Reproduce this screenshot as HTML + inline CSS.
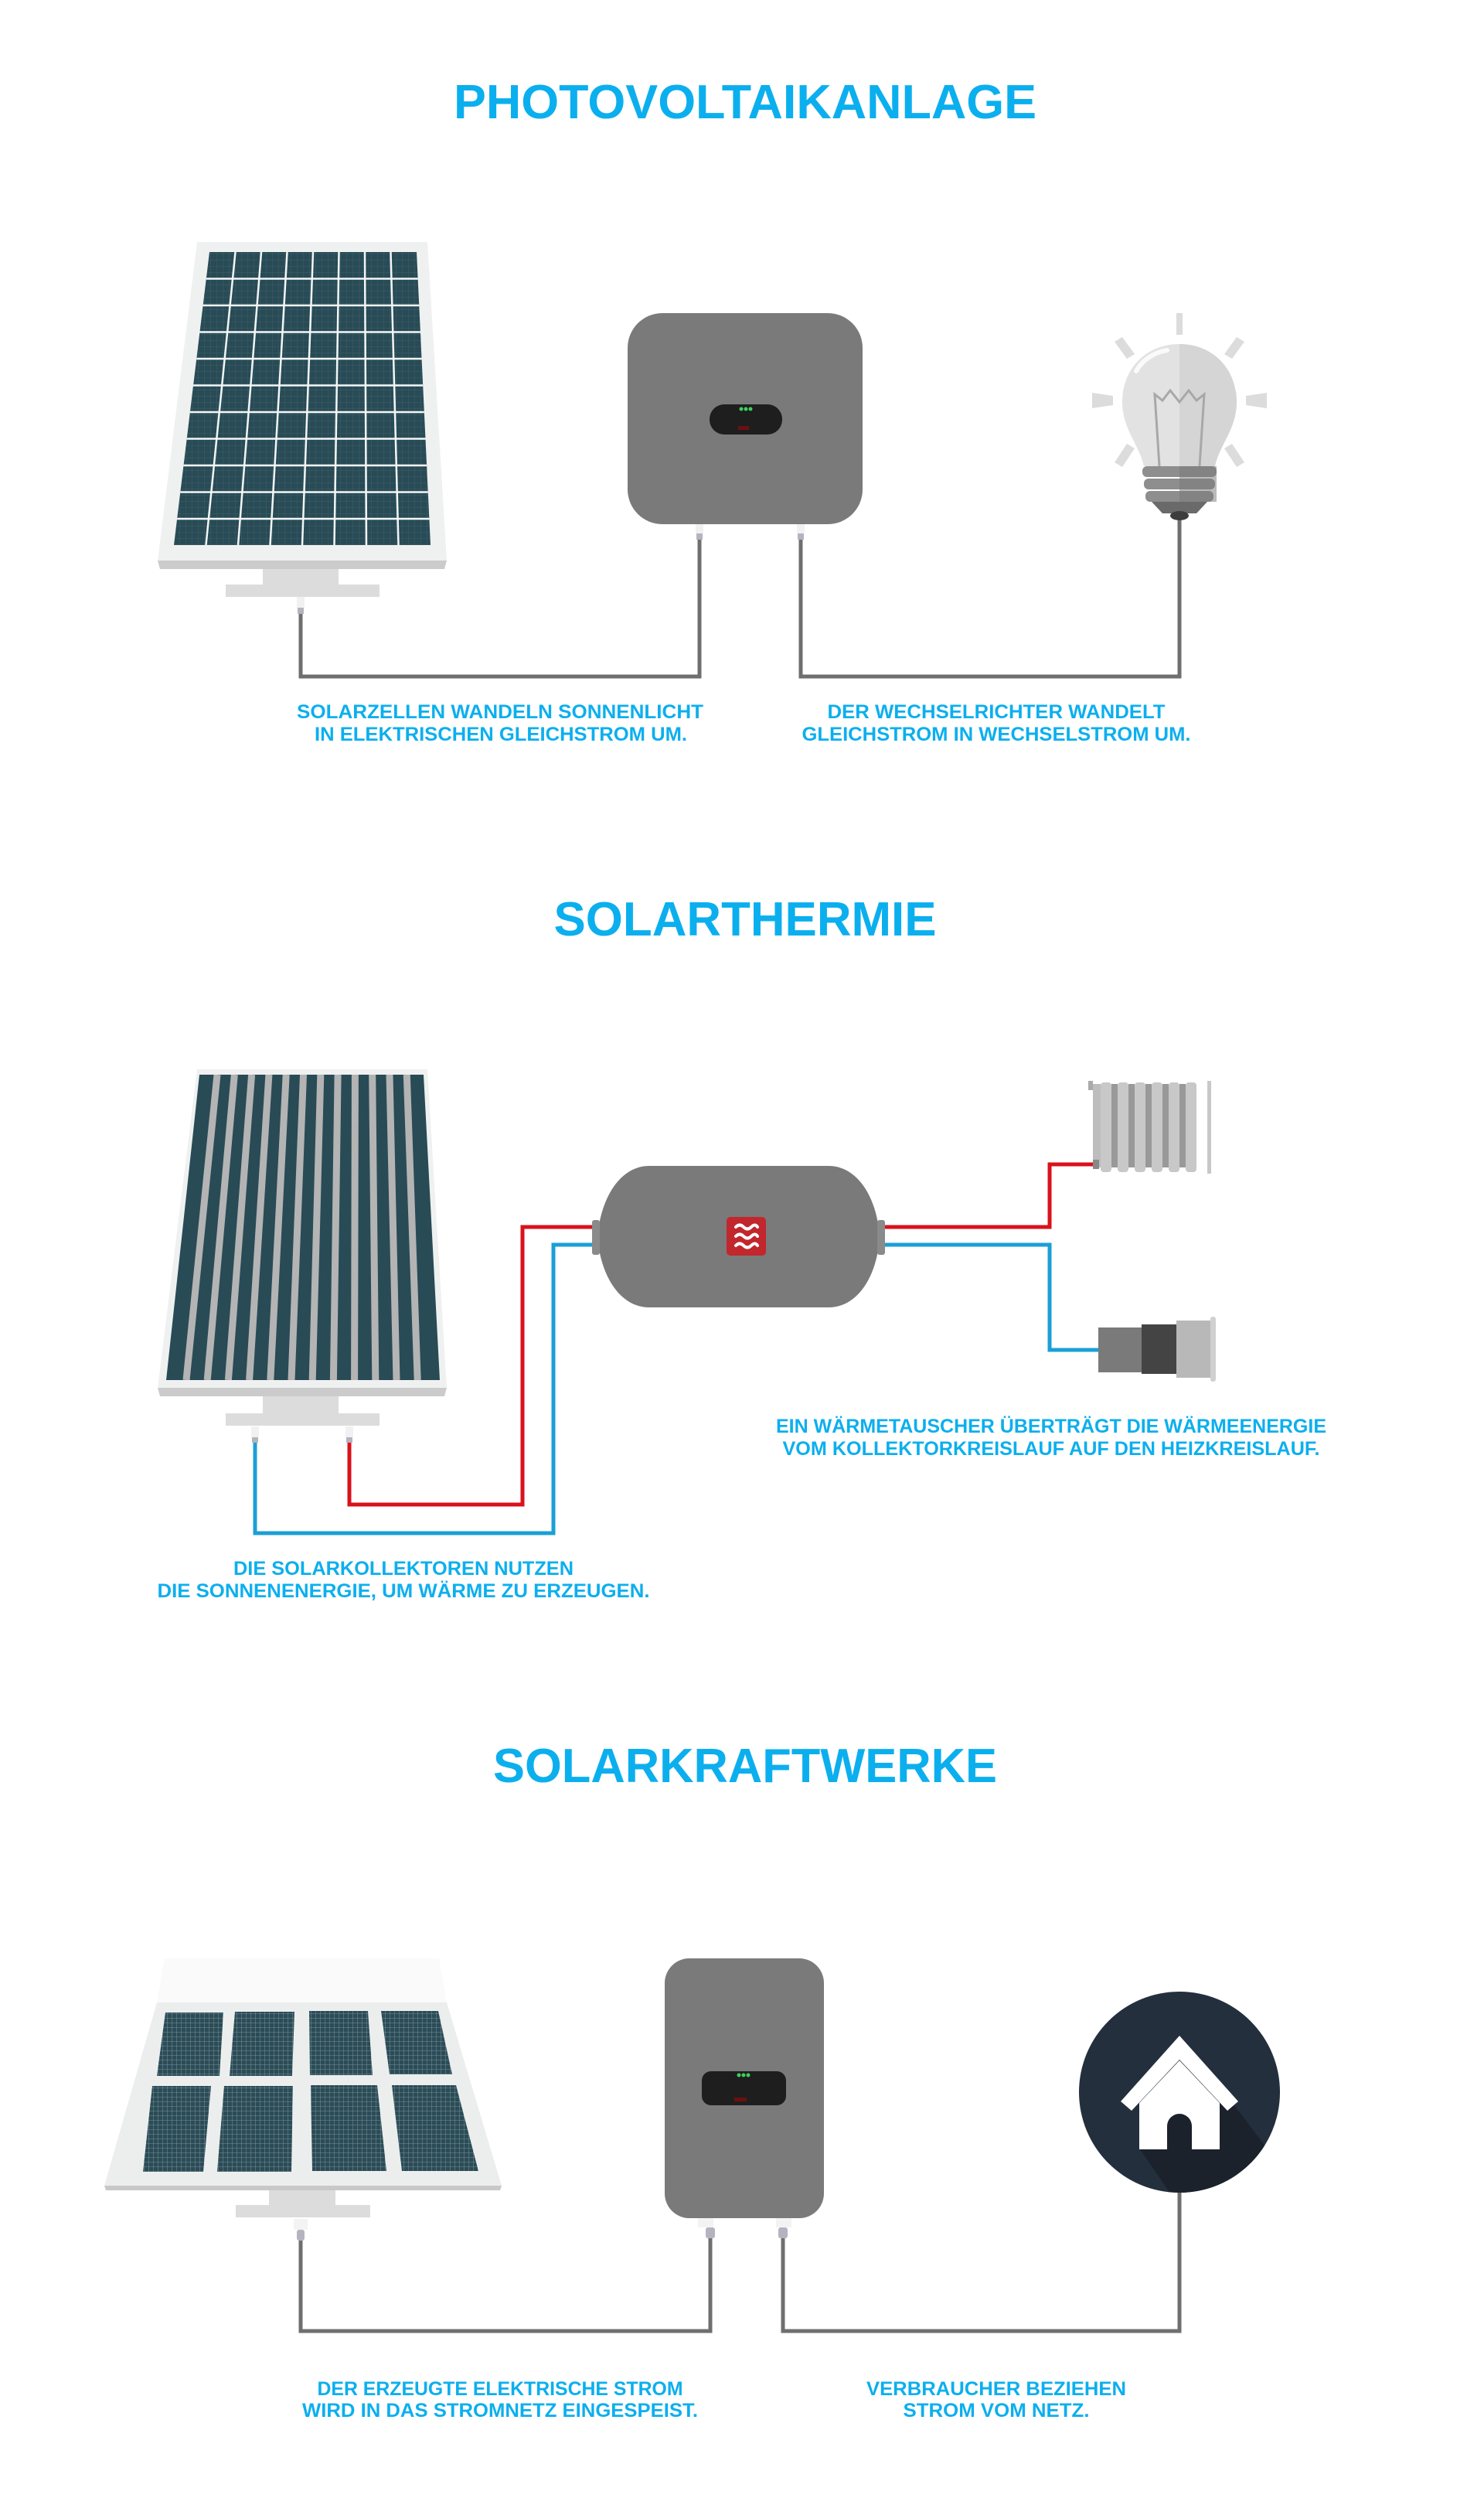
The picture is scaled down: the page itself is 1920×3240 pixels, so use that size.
<!DOCTYPE html>
<html><head><meta charset="utf-8"><style>
html,body{margin:0;padding:0;background:#fff;}
svg{display:block;}
text{font-family:"Liberation Sans",Arial,sans-serif;font-weight:bold;fill:#0cafee;}
</style></head><body>
<svg width="1920" height="3240" viewBox="0 0 1920 3240" xmlns="http://www.w3.org/2000/svg">
<defs>
<pattern id="fine" width="8" height="8" patternUnits="userSpaceOnUse"><path d="M0 0H8M0 0V8" stroke="#4f6d76" stroke-width="1" fill="none"/></pattern>
<pattern id="fine2" width="6" height="6" patternUnits="userSpaceOnUse"><rect width="6" height="6" fill="#2b4c57"/><path d="M0 0H6M0 0V6" stroke="#8aa0a6" stroke-width="0.8" fill="none"/></pattern>
<clipPath id="c1"><polygon points="271,326 539,326 557,705 225,705"/></clipPath>
<clipPath id="c2"><polygon points="258,1390 548,1390 569,1785 215,1785"/></clipPath>
</defs>

<!-- ===== SECTION 1 ===== -->
<text x="964" y="153" font-size="62" text-anchor="middle" textLength="754" lengthAdjust="spacingAndGlyphs">PHOTOVOLTAIKANLAGE</text>

<!-- panel 1 -->
<polygon points="255,313 553,313 578,725 204,725" fill="#eff1f1"/>
<polygon points="204,725 578,725 575,736 207,736" fill="#cbcbcb"/>
<g clip-path="url(#c1)">
<rect x="220" y="320" width="340" height="390" fill="#284b56"/>
<rect x="220" y="320" width="340" height="390" fill="url(#fine)" opacity="0.6"/>
<g stroke="#f4f6f6" stroke-width="2.5">
<line x1="304.5" y1="326" x2="266.5" y2="705"/><line x1="338" y1="326" x2="308" y2="705"/><line x1="371.5" y1="326" x2="349.5" y2="705"/><line x1="405" y1="326" x2="391" y2="705"/><line x1="438.5" y1="326" x2="432.5" y2="705"/><line x1="472" y1="326" x2="474" y2="705"/><line x1="505.5" y1="326" x2="515.5" y2="705"/>
<line x1="200" x2="580" y1="360.5" y2="360.5"/><line x1="200" x2="580" y1="395" y2="395"/><line x1="200" x2="580" y1="429.5" y2="429.5"/><line x1="200" x2="580" y1="464" y2="464"/><line x1="200" x2="580" y1="498.5" y2="498.5"/><line x1="200" x2="580" y1="533" y2="533"/><line x1="200" x2="580" y1="567.5" y2="567.5"/><line x1="200" x2="580" y1="602" y2="602"/><line x1="200" x2="580" y1="636.5" y2="636.5"/><line x1="200" x2="580" y1="671" y2="671"/>
</g></g>
<rect x="340" y="736" width="98" height="20" fill="#dcdcdc"/>
<rect x="292" y="756" width="199" height="16" fill="#dcdcdc"/>
<rect x="384" y="772" width="10" height="14" fill="#f1f1f1"/><rect x="385" y="786" width="8" height="8" fill="#b5b3c0"/>

<!-- wires 1 -->
<polyline points="389,794 389,875 905,875 905,698" fill="none" stroke="#6f6f6f" stroke-width="5"/>
<polyline points="1036,698 1036,875 1526,875 1526,670" fill="none" stroke="#6f6f6f" stroke-width="5"/>

<!-- inverter 1 -->
<rect x="812" y="405" width="304" height="273" rx="45" fill="#7a7a7a"/>
<rect x="900" y="678" width="10" height="12" fill="#f1f1f1"/><rect x="901" y="690" width="8" height="8" fill="#b5b3c0"/>
<rect x="1031" y="678" width="10" height="12" fill="#f1f1f1"/><rect x="1032" y="690" width="8" height="8" fill="#b5b3c0"/>
<rect x="918" y="523" width="94" height="39" rx="19" fill="#1e1e1e"/>
<circle cx="959" cy="529" r="2.5" fill="#3bd15a"/><circle cx="965" cy="529" r="2.5" fill="#3bd15a"/><circle cx="971" cy="529" r="2.5" fill="#3bd15a"/>
<rect x="955" y="551" width="14" height="5" fill="#6b1010"/>

<!-- bulb -->
<g fill="#dcdcdc">
<rect x="1522" y="405" width="8" height="28"/>
<polygon points="1442,442 1452,436 1468,458 1458,464"/>
<polygon points="1610,442 1600,436 1584,458 1594,464"/>
<polygon points="1413,508 1440,512 1440,524 1413,528"/>
<polygon points="1639,508 1612,512 1612,524 1639,528"/>
<polygon points="1442,598 1452,604 1468,580 1458,574"/>
<polygon points="1610,598 1600,604 1584,580 1594,574"/>
</g>
<path d="M1526,445 C1570,445 1600,478 1600,520 C1600,555 1578,575 1572,603 L1480,603 C1474,575 1452,555 1452,520 C1452,478 1482,445 1526,445 Z" fill="#e2e2e2"/>
<path d="M1526,445 C1570,445 1600,478 1600,520 C1600,555 1578,575 1572,603 L1526,603 Z" fill="#d5d5d5"/>
<path d="M1470,480 C1478,465 1495,455 1510,453" stroke="#fafafa" stroke-width="6" fill="none" stroke-linecap="round"/>
<path d="M1500,603 L1494,510 L1504,518 L1514,505 L1526,520 L1538,505 L1548,518 L1558,510 L1552,603" stroke="#a8a8a8" stroke-width="3" fill="none"/>
<rect x="1478" y="603" width="96" height="14" rx="6" fill="#8e8e8e"/>
<rect x="1480" y="619" width="92" height="14" rx="6" fill="#8e8e8e"/>
<rect x="1482" y="635" width="88" height="14" rx="6" fill="#8e8e8e"/>
<rect x="1526" y="603" width="48" height="46" fill="#777" opacity="0.5"/>
<path d="M1490,649 L1562,649 L1548,664 L1504,664 Z" fill="#6a6a6a"/>
<ellipse cx="1526" cy="667" rx="12" ry="6" fill="#3d3d3d"/>

<text x="647" y="929" font-size="25" text-anchor="middle" textLength="526" lengthAdjust="spacingAndGlyphs">SOLARZELLEN WANDELN SONNENLICHT</text>
<text x="648" y="958" font-size="25" text-anchor="middle" textLength="482" lengthAdjust="spacingAndGlyphs">IN ELEKTRISCHEN GLEICHSTROM UM.</text>
<text x="1289" y="929" font-size="25" text-anchor="middle" textLength="437" lengthAdjust="spacingAndGlyphs">DER WECHSELRICHTER WANDELT</text>
<text x="1289" y="958" font-size="25" text-anchor="middle" textLength="503" lengthAdjust="spacingAndGlyphs">GLEICHSTROM IN WECHSELSTROM UM.</text>

<!-- ===== SECTION 2 ===== -->
<text x="964" y="1210" font-size="62" text-anchor="middle" textLength="495" lengthAdjust="spacingAndGlyphs">SOLARTHERMIE</text>

<polygon points="255,1383 553,1383 578,1795 204,1795" fill="#eff1f1"/>
<polygon points="204,1795 578,1795 575,1806 207,1806" fill="#cbcbcb"/>
<g clip-path="url(#c2)">
<rect x="210" y="1385" width="365" height="405" fill="#284b56"/>
<g stroke="#b4b4b4" stroke-width="9">
<line x1="281" y1="1390" x2="241" y2="1785"/><line x1="303.3" y1="1390" x2="268.2" y2="1785"/><line x1="325.6" y1="1390" x2="295.4" y2="1785"/><line x1="347.9" y1="1390" x2="322.6" y2="1785"/><line x1="370.2" y1="1390" x2="349.8" y2="1785"/><line x1="392.5" y1="1390" x2="377" y2="1785"/><line x1="414.8" y1="1390" x2="404.2" y2="1785"/><line x1="437.1" y1="1390" x2="431.4" y2="1785"/><line x1="459.4" y1="1390" x2="458.6" y2="1785"/><line x1="481.7" y1="1390" x2="485.8" y2="1785"/><line x1="504" y1="1390" x2="513" y2="1785"/><line x1="526.3" y1="1390" x2="540.2" y2="1785"/>
</g></g>
<rect x="340" y="1806" width="98" height="22" fill="#dcdcdc"/>
<rect x="292" y="1828" width="199" height="16" fill="#dcdcdc"/>
<rect x="325" y="1845" width="10" height="14" fill="#f1f1f1"/><rect x="326" y="1859" width="8" height="7" fill="#b5b3c0"/>
<rect x="447" y="1845" width="10" height="14" fill="#f1f1f1"/><rect x="448" y="1859" width="8" height="7" fill="#b5b3c0"/>

<!-- pipes -->
<polyline points="452,1866 452,1946 676,1946 676,1587 768,1587" fill="none" stroke="#d9121b" stroke-width="5"/>
<polyline points="330,1866 330,1983 716,1983 716,1610 768,1610" fill="none" stroke="#1b9fd6" stroke-width="5"/>
<polyline points="1138,1587 1358,1587 1358,1506 1415,1506" fill="none" stroke="#d9121b" stroke-width="5"/>
<polyline points="1138,1610 1358,1610 1358,1746 1421,1746" fill="none" stroke="#1b9fd6" stroke-width="5"/>

<!-- heat exchanger -->
<path d="M840,1508 L1072,1508 C1110,1508 1135,1550 1138,1600 C1135,1650 1110,1691 1072,1691 L840,1691 C802,1691 777,1650 773,1600 C777,1550 802,1508 840,1508 Z" fill="#7a7a7a"/>
<rect x="766" y="1578" width="10" height="45" rx="3" fill="#8a8a8a"/>
<rect x="1135" y="1578" width="10" height="45" rx="3" fill="#8a8a8a"/>
<rect x="940" y="1574" width="51" height="50" rx="5" fill="#c1272d"/>
<g stroke="#fff" stroke-width="4" fill="none" stroke-linecap="round">
<path d="M952,1587 q5,-5 10,0 t10,0 t8,0"/><path d="M952,1599 q5,-5 10,0 t10,0 t8,0"/><path d="M952,1611 q5,-5 10,0 t10,0 t8,0"/>
</g>

<!-- radiator -->
<rect x="1408" y="1398" width="6" height="12" fill="#aaa"/>
<rect x="1414" y="1402" width="10" height="108" fill="#bdbdbd"/>
<g fill="#c8c8c8">
<rect x="1424" y="1400" width="14" height="116" rx="4"/><rect x="1446" y="1400" width="14" height="116" rx="4"/><rect x="1468" y="1400" width="14" height="116" rx="4"/><rect x="1490" y="1400" width="14" height="116" rx="4"/><rect x="1512" y="1400" width="14" height="116" rx="4"/><rect x="1534" y="1400" width="14" height="116" rx="4"/>
</g>
<g fill="#999"><rect x="1438" y="1402" width="8" height="108"/><rect x="1460" y="1402" width="8" height="108"/><rect x="1482" y="1402" width="8" height="108"/><rect x="1504" y="1402" width="8" height="108"/><rect x="1526" y="1402" width="8" height="108"/></g>
<rect x="1562" y="1398" width="5" height="120" fill="#c8c8c8"/>
<rect x="1414" y="1500" width="8" height="12" fill="#888"/>

<!-- boiler -->
<rect x="1421" y="1717" width="56" height="58" fill="#7a7a7a"/>
<rect x="1477" y="1713" width="45" height="64" fill="#444"/>
<rect x="1522" y="1708" width="44" height="74" fill="#b8b8b8"/>
<rect x="1566" y="1703" width="7" height="84" rx="3" fill="#d0d0d0"/>

<text x="1360" y="1853" font-size="25" text-anchor="middle" textLength="712" lengthAdjust="spacingAndGlyphs">EIN WÄRMETAUSCHER ÜBERTRÄGT DIE WÄRMEENERGIE</text>
<text x="1360" y="1882" font-size="25" text-anchor="middle" textLength="695" lengthAdjust="spacingAndGlyphs">VOM KOLLEKTORKREISLAUF AUF DEN HEIZKREISLAUF.</text>
<text x="522" y="2037" font-size="25" text-anchor="middle" textLength="440" lengthAdjust="spacingAndGlyphs">DIE SOLARKOLLEKTOREN NUTZEN</text>
<text x="522" y="2066" font-size="25" text-anchor="middle" textLength="637" lengthAdjust="spacingAndGlyphs">DIE SONNENENERGIE, UM WÄRME ZU ERZEUGEN.</text>

<!-- ===== SECTION 3 ===== -->
<text x="964" y="2305" font-size="62" text-anchor="middle" textLength="652" lengthAdjust="spacingAndGlyphs">SOLARKRAFTWERKE</text>

<polygon points="213,2533 568,2533 578,2590 203,2590" fill="#fafafa"/>
<polygon points="203,2590 578,2590 649,2827 135,2827" fill="#eceeee"/>
<polygon points="135,2827 649,2827 647,2833 137,2833" fill="#c8c8c8"/>
<g fill="url(#fine2)">
<polygon points="214,2603 289,2603 284,2685 203,2685"/>
<polygon points="304,2602 381,2602 378,2685 297,2685"/>
<polygon points="400,2601 476,2601 482,2684 401,2684"/>
<polygon points="493,2601 567,2601 585,2683 504,2683"/>
<polygon points="197,2698 273,2698 263,2809 185,2809"/>
<polygon points="290,2698 379,2698 377,2809 281,2809"/>
<polygon points="402,2697 488,2697 500,2808 404,2808"/>
<polygon points="507,2697 590,2697 619,2808 520,2808"/>
</g>
<rect x="348" y="2833" width="86" height="20" fill="#dcdcdc"/>
<rect x="305" y="2852" width="174" height="16" fill="#dcdcdc"/>
<rect x="380" y="2870" width="18" height="14" fill="#f3f3f3"/><rect x="384" y="2884" width="10" height="14" rx="3" fill="#b5b3c0"/>

<polyline points="389,2898 389,3015 919,3015 919,2895" fill="none" stroke="#6f6f6f" stroke-width="5"/>
<polyline points="1013,2895 1013,3015 1526,3015 1526,2835" fill="none" stroke="#6f6f6f" stroke-width="5"/>

<rect x="860" y="2533" width="206" height="336" rx="32" fill="#7a7a7a"/>
<rect x="903" y="2869" width="20" height="12" fill="#f3f3f3"/><rect x="913" y="2881" width="12" height="14" rx="3" fill="#b5b3c0"/>
<rect x="1004" y="2869" width="20" height="12" fill="#f3f3f3"/><rect x="1007" y="2881" width="12" height="14" rx="3" fill="#b5b3c0"/>
<rect x="908" y="2679" width="109" height="44" rx="12" fill="#1e1e1e"/>
<circle cx="956" cy="2684" r="2.5" fill="#3bd15a"/><circle cx="962" cy="2684" r="2.5" fill="#3bd15a"/><circle cx="968" cy="2684" r="2.5" fill="#3bd15a"/>
<rect x="950" y="2713" width="16" height="5" fill="#6b1010"/>

<!-- house circle -->
<circle cx="1526" cy="2706" r="130" fill="#232f3c"/>
<clipPath id="cc"><circle cx="1526" cy="2706" r="130"/></clipPath>
<polygon clip-path="url(#cc)" points="1526,2633 1610,2740 1700,2860 1530,2860 1475,2780" fill="#1b222c"/>
<path d="M1526,2633 L1450,2718 L1464,2730 L1526,2664 L1588,2730 L1602,2718 Z" fill="#fff"/>
<path d="M1474,2720 L1526,2665 L1578,2720 L1578,2780 L1542,2780 L1542,2750 A16,16 0 0 0 1510,2750 L1510,2780 L1474,2780 Z" fill="#fff"/>

<text x="647" y="3098" font-size="25" text-anchor="middle" textLength="473" lengthAdjust="spacingAndGlyphs">DER ERZEUGTE ELEKTRISCHE STROM</text>
<text x="647" y="3126" font-size="25" text-anchor="middle" textLength="512" lengthAdjust="spacingAndGlyphs">WIRD IN DAS STROMNETZ EINGESPEIST.</text>
<text x="1289" y="3098" font-size="25" text-anchor="middle" textLength="336" lengthAdjust="spacingAndGlyphs">VERBRAUCHER BEZIEHEN</text>
<text x="1289" y="3126" font-size="25" text-anchor="middle" textLength="241" lengthAdjust="spacingAndGlyphs">STROM VOM NETZ.</text>
</svg>
</body></html>
